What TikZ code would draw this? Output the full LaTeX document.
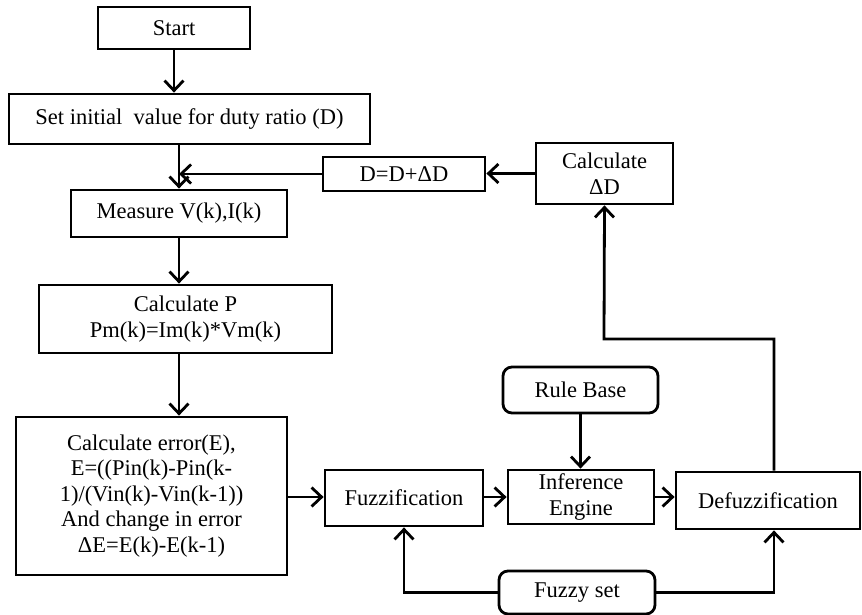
\documentclass[tikz,border=0pt]{standalone}
\usepackage{fontspec}
\setmainfont{Liberation Serif}
\usetikzlibrary{arrows.meta}
\begin{document}
\begin{tikzpicture}[x=1pt,y=-1pt,
 box/.style={draw, line width=2.8pt, inner sep=0pt, align=center, font=\fontsize{22.5}{26}\selectfont},
 rbox/.style={box, rounded corners=9pt},
 flow/.style={line width=2.8pt, -{Straight Barb[length=10pt,width=19pt,line width=2.8pt]}},
 plain/.style={line width=2.8pt}]
\useasboundingbox (0,0) rectangle (862,615);
\node[box, minimum width=152pt, minimum height=42pt] (start) at (174,28) {Start};
\node[box, minimum width=361pt, minimum height=50pt] (init) at (189.5,119) {Set initial\enspace value for duty ratio (D)};
\node[box, minimum width=216pt, minimum height=47pt] (measure) at (179,213.5) {Measure V(k),I(k)};
\node[box, minimum width=293pt, minimum height=68pt] (calcp) at (185.5,319) {Calculate P\\Pm(k)=Im(k)*Vm(k)};
\node[box, minimum width=271pt, minimum height=158pt, font=\fontsize{22.5}{25.5}\selectfont] (err) at (151.5,496) {Calculate error(E),\\E=((Pin(k)-Pin(k-\\1)/(Vin(k)-Vin(k-1))\\And change in error\\ΔE=E(k)-E(k-1)};
\node[box, minimum width=162pt, minimum height=34pt] (dbox) at (404,174) {D=D+ΔD};
\node[box, minimum width=137pt, minimum height=61pt] (calcd) at (604.5,173.5) {Calculate\\ΔD};
\node[box, minimum width=158pt, minimum height=56pt] (fuzz) at (404,498) {Fuzzification};
\node[box, minimum width=146pt, minimum height=54pt] (inf) at (581,497) {Inference\\Engine};
\node[box, minimum width=184pt, minimum height=57pt] (defuzz) at (768,500.5) {Defuzzification};
\node[rbox, minimum width=155pt, minimum height=46pt] (rule) at (580.5,390) {Rule Base};
\node[rbox, minimum width=156pt, minimum height=43pt] (fset) at (577,592.5) {Fuzzy set};
\coordinate (bend) at (604,339);

\draw[flow] (start.south) -- (start.south |- init.north);
\draw[flow] (measure.north |- init.south) -- (measure.north);
\draw[flow] (dbox.west) -- (measure.north |- dbox.west);
\draw[flow] (measure.south) -- (measure.south |- calcp.north);
\draw[flow] (measure.south |- calcp.south) -- (measure.south |- err.north);
\draw[flow] (err.east |- 0,497) -- (fuzz.west |- 0,497);
\draw[flow] (fuzz.east |- 0,497) -- (inf.west |- 0,497);
\draw[flow] (inf.east |- 0,497) -- (defuzz.west |- 0,497);
\draw[flow] (rule.south) -- (rule.south |- inf.north);
\draw[flow] (fset.west) -| (fuzz.south);
\draw[flow] (fset.east) -| ([xshift=6pt]defuzz.south);
\draw[flow] ([xshift=6pt]defuzz.north) |- (bend) -- (calcd.south);
\draw[flow] (calcd.west) -- (dbox.east |- calcd.west);
\end{tikzpicture}
\end{document}
